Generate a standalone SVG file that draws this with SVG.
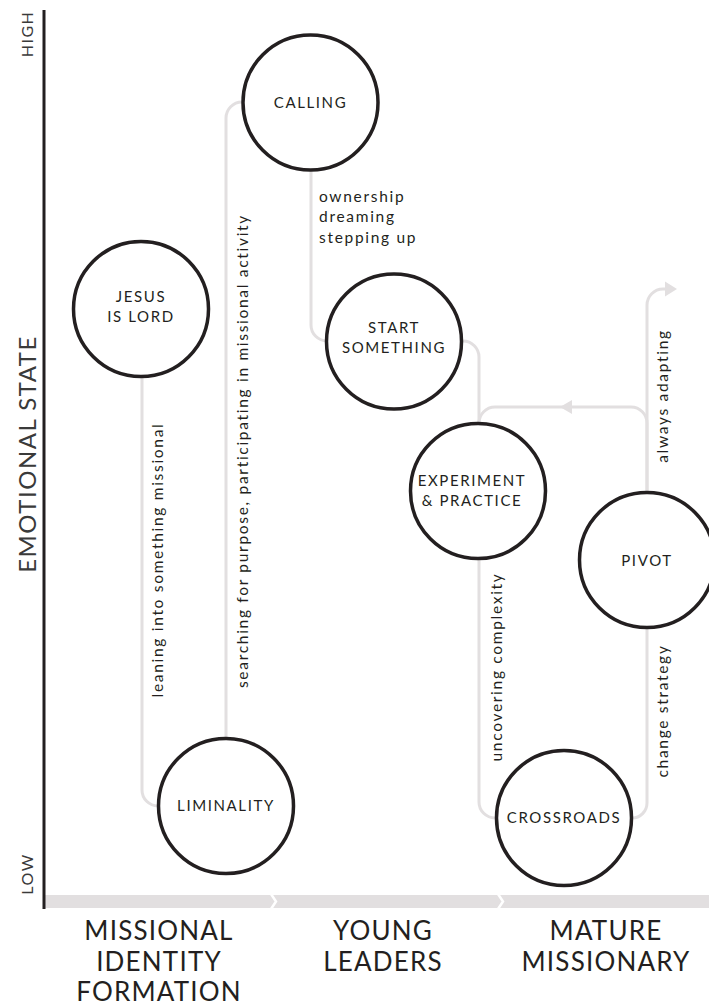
<svg xmlns="http://www.w3.org/2000/svg" width="709" height="1006" viewBox="0 0 709 1006">
<style>
.node circle{fill:#fff;stroke:#231f20;stroke-width:3.5}
.nl{font-family:Lato,"Noto Sans",sans-serif;font-size:15px;letter-spacing:1.6px;fill:#231f20;text-anchor:middle}
.el{font-family:Lato,"Noto Sans",sans-serif;font-size:15.5px;letter-spacing:1.7px;fill:#231f20}
.conn path{fill:none;stroke:#e2dfe0;stroke-width:3}
.ah{fill:#e2dfe0}
.ax{font-family:Lato,"Noto Sans",sans-serif;fill:#3a3a3a;letter-spacing:1.5px}
.stage{font-family:Lato,"Noto Sans",sans-serif;font-size:26px;letter-spacing:1.2px;fill:#231f20;text-anchor:middle}
</style>
<rect width="709" height="1006" fill="#fff"/>

<g id="axes">
  <rect x="45" y="895" width="664" height="13" fill="#e2dfe0"/>
  <polyline points="271,894 276,901.5 271,909" fill="none" stroke="#fff" stroke-width="2.5"/>
  <polyline points="498,894 503,901.5 498,909" fill="none" stroke="#fff" stroke-width="2.5"/>
  <line x1="44" y1="10" x2="44" y2="909" stroke="#231f20" stroke-width="3"/>
  <text class="ax" font-size="16" transform="translate(33,34) rotate(-90)" text-anchor="middle">HIGH</text>
  <text class="ax" font-size="16" transform="translate(33,874) rotate(-90)" text-anchor="middle">LOW</text>
  <text class="ax" font-size="24" fill="#231f20" letter-spacing="1.8" transform="translate(36,454) rotate(-90)" text-anchor="middle">EMOTIONAL STATE</text>
</g>

<g id="connectors" class="conn">
  <path d="M142 377 V790 A16 16 0 0 0 158 806"/>
  <path d="M226 738 V118 A16 16 0 0 1 242 102"/>
  <path d="M311 170 V325 A16 16 0 0 0 327 341"/>
  <path d="M463 341 A16 16 0 0 1 479 357 V423"/>
  <path d="M479 558 V802 A16 16 0 0 0 495 818"/>
  <path d="M632 818 A15 15 0 0 0 647 803 V627"/>
  <path d="M647 493 V423 A16 16 0 0 0 631 407 H495 A16 16 0 0 0 479 423"/>
  <path d="M647 493 V305 A16 16 0 0 1 663 289 H668"/>
  <polygon class="ah" points="677,289 665,281.5 665,296.5"/>
  <polygon class="ah" points="560,407 572,400 572,414"/>
</g>

<g id="edge-labels">
  <text class="el" text-anchor="middle" transform="translate(163,560) rotate(-90)">leaning into something missional</text>
  <text class="el" text-anchor="middle" transform="translate(248,451) rotate(-90)">searching for purpose, participating in missional activity</text>
  <text class="el" text-anchor="middle" transform="translate(502,667) rotate(-90)">uncovering complexity</text>
  <text class="el" text-anchor="middle" transform="translate(668,711) rotate(-90)">change strategy</text>
  <text class="el" text-anchor="middle" transform="translate(668,396) rotate(-90)">always adapting</text>
  <text class="el" x="319" y="202">ownership</text>
  <text class="el" x="319" y="222">dreaming</text>
  <text class="el" x="319" y="243">stepping up</text>
</g>

<g id="node-calling" class="node">
  <circle cx="310.5" cy="102.5" r="67.5"/>
  <text class="nl" x="310.5" y="108">CALLING</text>
</g>
<g id="node-jesus" class="node">
  <circle cx="141" cy="309" r="67.5"/>
  <text class="nl" x="141" y="302">JESUS</text>
  <text class="nl" x="141" y="322">IS LORD</text>
</g>
<g id="node-start" class="node">
  <circle cx="394" cy="341.5" r="67.5"/>
  <text class="nl" x="394" y="333">START</text>
  <text class="nl" x="394" y="353">SOMETHING</text>
</g>
<g id="node-experiment" class="node">
  <circle cx="478" cy="491" r="67.5"/>
  <text class="nl" x="472" y="486">EXPERIMENT</text>
  <text class="nl" x="472" y="506">&amp; PRACTICE</text>
</g>
<g id="node-pivot" class="node">
  <circle cx="647" cy="560" r="67.5"/>
  <text class="nl" x="647" y="566">PIVOT</text>
</g>
<g id="node-liminality" class="node">
  <circle cx="226" cy="806" r="67.5"/>
  <text class="nl" x="226" y="811">LIMINALITY</text>
</g>
<g id="node-crossroads" class="node">
  <circle cx="564" cy="818" r="67.5"/>
  <text class="nl" x="564" y="823">CROSSROADS</text>
</g>

<g id="stages">
  <text class="stage" x="159" y="940">MISSIONAL</text>
  <text class="stage" x="159" y="971">IDENTITY</text>
  <text class="stage" x="159" y="1001">FORMATION</text>
  <text class="stage" x="383" y="940">YOUNG</text>
  <text class="stage" x="383" y="971">LEADERS</text>
  <text class="stage" x="606" y="940">MATURE</text>
  <text class="stage" x="606" y="971">MISSIONARY</text>
</g>
</svg>
